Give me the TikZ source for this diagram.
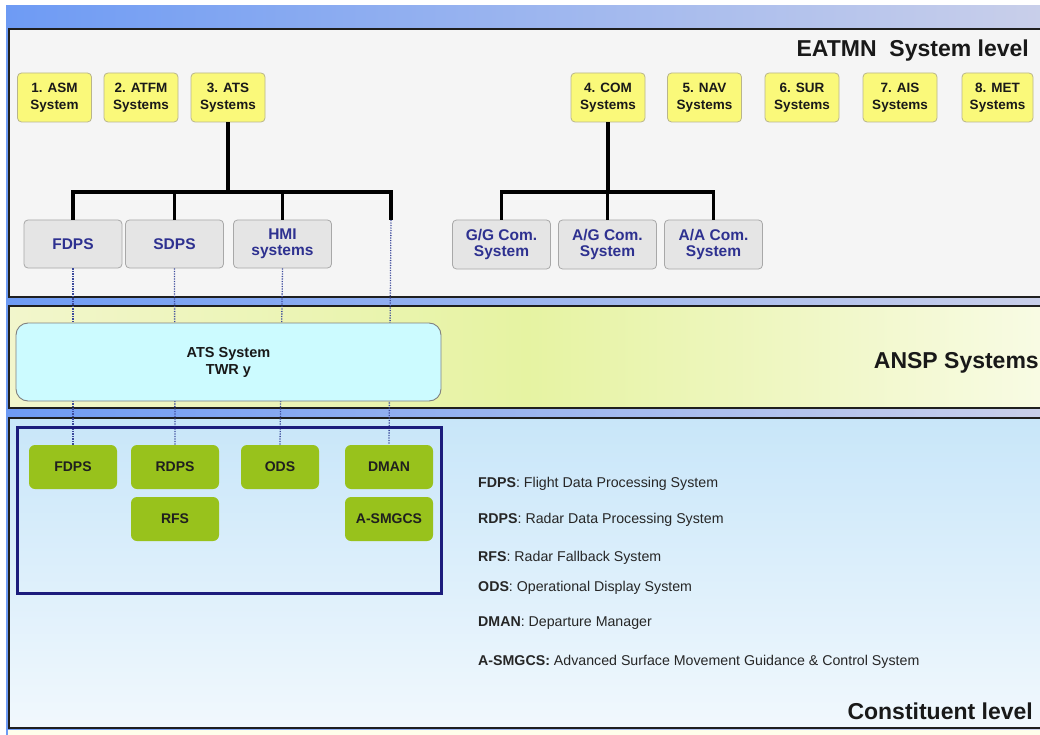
\documentclass[tikz,border=0pt]{standalone}
\usepackage{fontspec}
\setmainfont{Liberation Sans}
\definecolor{bandL}{HTML}{6E9BF4}
\definecolor{bandR}{HTML}{C9CFEA}
\definecolor{panelgray}{HTML}{F5F5F5}
\definecolor{ansp}{HTML}{E6F3A2}
\definecolor{anspL}{HTML}{F2F6CC}
\definecolor{anspR}{HTML}{F8FBE4}
\definecolor{constT}{HTML}{C8E6F9}
\definecolor{constB}{HTML}{F1F8FD}
\definecolor{yfill}{HTML}{FAF97A}
\definecolor{ydraw}{HTML}{B9B58C}
\definecolor{gfill}{HTML}{E5E5E5}
\definecolor{gdraw}{HTML}{A8A8A8}
\definecolor{gtext}{HTML}{2E3190}
\definecolor{cyanfill}{HTML}{CCFBFF}
\definecolor{navy}{HTML}{1C1C7C}
\definecolor{green}{HTML}{98C21C}
\definecolor{dotc}{HTML}{3C4A9C}
\tikzset{
  panelframe/.style={draw=black!88, line width=2.2pt},
  ybox/.style={rounded corners=4pt, fill=yfill, draw=ydraw, line width=0.8pt,
    minimum width=74pt, minimum height=49pt, inner sep=0pt, align=center,
    font=\bfseries\fontsize{13.5}{17}\selectfont, text=black!90},
  gbox/.style={rounded corners=4pt, fill=gfill, draw=gdraw, line width=0.8pt,
    minimum width=98pt, minimum height=48pt, inner sep=0pt, align=center,
    font=\bfseries\fontsize{15.5}{16.5}\selectfont, text=gtext},
  grbox/.style={rounded corners=6pt, fill=green, draw=none,
    minimum width=88pt, minimum height=44pt, inner sep=0pt, align=center,
    font=\bfseries\fontsize{14}{15}\selectfont, text=black!88},
  tree/.style={line width=3.2pt, black},
  dotline/.style={dotc, line width=1.3pt, dash pattern=on 1.2pt off 1.3pt},
  title/.style={font=\bfseries\fontsize{23}{26}\selectfont, text=black!90, inner sep=0pt},
  legend/.style={font=\fontsize{14.2}{16}\selectfont, text=black!85, inner sep=0pt, anchor=base west}
}
\begin{document}
\begin{tikzpicture}[x=1pt,y=-1pt]
\useasboundingbox (0,0) rectangle (1040,735);
\fill[white] (0,0) rectangle (1040,735);
% blue background band
\shade[left color=bandL, right color=bandR] (6,6) rectangle (1045,740);
% panel 1
\fill[panelgray] (9,29) rectangle (1045,297);
\draw[panelframe] (1045,29) -- (9,29) -- (9,297) -- (1045,297);
% panel 2
\shade[shading angle=-70, left color=anspL, right color=anspR, middle color=ansp] (9,306) rectangle (1045,408);
\draw[panelframe] (1045,306) -- (9,306) -- (9,408) -- (1045,408);
% panel 3
\shade[top color=constT, bottom color=constB] (9,418) rectangle (1045,728);
\draw[panelframe] (1045,418) -- (9,418) -- (9,728) -- (1045,728);
\fill[white!92!yellow] (8,729.5) rectangle (1045,740);

% titles
\node[title, anchor=base east] (t1) at (1029,57) {EATMN\ \ System level};
\node[title, anchor=base east] (t2) at (1039,368) {ANSP Systems};
\node[title, anchor=base east] (t3) at (1033,719) {Constituent level};

% top yellow boxes
\node[ybox] (asm) at (54.5,97.5) {1. ASM\\System};
\node[ybox] (atfm) at (141,97.5) {2. ATFM\\Systems};
\node[ybox] (ats) at (228,97.5) {3. ATS\\Systems};
\node[ybox] (com) at (608,97.5) {4. COM\\Systems};
\node[ybox] (nav) at (704.5,97.5) {5. NAV\\Systems};
\node[ybox] (sur) at (802,97.5) {6. SUR\\Systems};
\node[ybox] (ais) at (900,97.5) {7. AIS\\Systems};
\node[ybox, minimum width=71pt] (met) at (997.5,97.5) {8. MET\\Systems};

% gray boxes
\node[gbox] (fdps) at (73,244) {FDPS};
\node[gbox] (sdps) at (174.5,244) {SDPS};
\node[gbox] (hmi) at (282.5,244) {HMI\\systems};
\node[gbox, minimum height=49pt] (gg) at (501.5,244.5) {G/G Com.\\System};
\node[gbox, minimum height=49pt] (ag) at (607.5,244.5) {A/G Com.\\System};
\node[gbox, minimum height=49pt] (aa) at (713.5,244.5) {A/A Com.\\System};

% ATS tree
\coordinate (j1) at (228,192);
\coordinate (dtop) at (391,220);
\draw[tree] (ats.south) -- (j1);
\draw[tree] (fdps.north) -- (fdps.north |- j1) -- (dtop |- j1) -- (dtop);
\draw[tree] (sdps.north) -- (sdps.north |- j1);
\draw[tree] (hmi.north) -- (hmi.north |- j1);
% COM tree
\coordinate (j2) at (608,192);
\draw[tree] (com.south) -- (j2);
\draw[tree] (gg.north) -- (gg.north |- j2) -- (aa.north |- j2) -- (aa.north);
\draw[tree] (ag.north) -- (ag.north |- j2);

% green boxes
\node[grbox] (gfdps) at (73,467) {FDPS};
\node[grbox] (rdps) at (175,467) {RDPS};
\node[grbox] (rfs) at (175,519) {RFS};
\node[grbox, minimum width=78pt] (ods) at (280,467) {ODS};
\node[grbox] (dman) at (389,467) {DMAN};
\node[grbox] (asmgcs) at (389,519) {A-SMGCS};

% dotted links
\draw[dotline] (fdps.south) -- (gfdps.north);
\draw[dotline] (sdps.south) -- (rdps.north);
\draw[dotline] (hmi.south) -- (ods.north);
\draw[dotline] (dtop) -- (dman.north);

% ATS System TWR y box
\node[rounded corners=12pt, fill=cyanfill, draw=black!50, line width=0.9pt,
  minimum width=425pt, minimum height=78pt, align=center,
  font=\bfseries\fontsize{14.5}{17}\selectfont, text=black!90] (twr) at (228.5,362) {ATS System\\TWR y};

% navy frame
\draw[navy, line width=3pt] (17,427) rectangle (441,593);

% legend
\node[legend] (l1) at (478,487) {\textbf{FDPS}: Flight Data Processing System};
\node[legend] (l2) at (478,523) {\textbf{RDPS}: Radar Data Processing System};
\node[legend] (l3) at (478,561) {\textbf{RFS}: Radar Fallback System};
\node[legend] (l4) at (478,591) {\textbf{ODS}: Operational Display System};
\node[legend] (l5) at (478,626) {\textbf{DMAN}: Departure Manager};
\node[legend] (l6) at (478,665) {\textbf{A-SMGCS:} Advanced Surface Movement Guidance \& Control System};
\end{tikzpicture}
\end{document}
